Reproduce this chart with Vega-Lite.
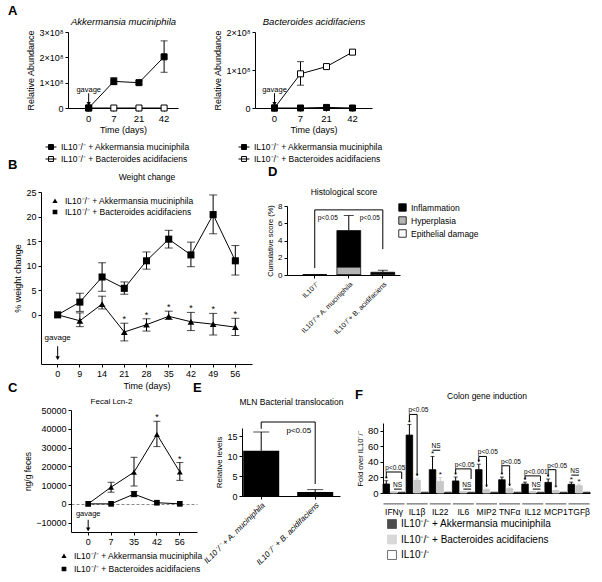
{
"$schema": "https://vega.github.io/schema/vega-lite/v6.json",
"padding": {"left": 8, "top": 5, "right": 5, "bottom": 5},
"config": {
  "font": "Liberation Sans",
  "view": {"stroke": null},
  "axis": {"grid": false, "domainColor": "black", "tickColor": "black", "labelColor": "black", "titleColor": "black", "labelFont": "Liberation Sans", "titleFont": "Liberation Sans", "titleFontWeight": "normal", "labelFontSize": 9, "titleFontSize": 9, "tickSize": 3, "labelPadding": 2, "titlePadding": 3},
  "legend": {"labelFont": "Liberation Sans", "labelColor": "black", "labelLimit": 400, "padding": 0},
  "title": {"font": "Liberation Sans", "color": "black", "fontSize": 13, "fontWeight": "bold", "anchor": "start", "frame": "group", "offset": 0},
  "text": {"font": "Liberation Sans", "color": "black"}
},
"datasets": {
  "a1": [
    {"day": "0", "series": "IL10⁻/⁻ + Bacteroides acidifaciens", "v": 0, "lo": null, "hi": null},
    {"day": "7", "series": "IL10⁻/⁻ + Bacteroides acidifaciens", "v": 0, "lo": null, "hi": null},
    {"day": "21", "series": "IL10⁻/⁻ + Bacteroides acidifaciens", "v": 0, "lo": null, "hi": null},
    {"day": "42", "series": "IL10⁻/⁻ + Bacteroides acidifaciens", "v": 0, "lo": null, "hi": null},
    {"day": "0", "series": "IL10⁻/⁻ + Akkermansia muciniphila", "v": 0, "lo": null, "hi": null},
    {"day": "7", "series": "IL10⁻/⁻ + Akkermansia muciniphila", "v": 105000000, "lo": 92000000, "hi": 120000000},
    {"day": "21", "series": "IL10⁻/⁻ + Akkermansia muciniphila", "v": 100000000, "lo": 93000000, "hi": 107000000},
    {"day": "42", "series": "IL10⁻/⁻ + Akkermansia muciniphila", "v": 202000000, "lo": 141000000, "hi": 265000000}
  ],
  "a2": [
    {"day": "0", "series": "IL10⁻/⁻ + Bacteroides acidifaciens", "v": 0, "lo": null, "hi": null},
    {"day": "7", "series": "IL10⁻/⁻ + Bacteroides acidifaciens", "v": 90000000, "lo": 60000000, "hi": 122000000},
    {"day": "21", "series": "IL10⁻/⁻ + Bacteroides acidifaciens", "v": 109000000, "lo": 105000000, "hi": 113000000},
    {"day": "42", "series": "IL10⁻/⁻ + Bacteroides acidifaciens", "v": 147000000, "lo": 142000000, "hi": 152000000},
    {"day": "0", "series": "IL10⁻/⁻ + Akkermansia muciniphila", "v": 0, "lo": null, "hi": null},
    {"day": "7", "series": "IL10⁻/⁻ + Akkermansia muciniphila", "v": 0, "lo": null, "hi": null},
    {"day": "21", "series": "IL10⁻/⁻ + Akkermansia muciniphila", "v": 1500000, "lo": null, "hi": null},
    {"day": "42", "series": "IL10⁻/⁻ + Akkermansia muciniphila", "v": 0, "lo": null, "hi": null}
  ],
  "b": [
    {"day": "0", "series": "IL10⁻/⁻ + Bacteroides acidifaciens", "v": 0, "lo": null, "hi": null, "star": false},
    {"day": "9", "series": "IL10⁻/⁻ + Bacteroides acidifaciens", "v": 2.6, "lo": 0.7, "hi": 4.4, "star": false},
    {"day": "14", "series": "IL10⁻/⁻ + Bacteroides acidifaciens", "v": 7.7, "lo": 4.8, "hi": 10.6, "star": false},
    {"day": "21", "series": "IL10⁻/⁻ + Bacteroides acidifaciens", "v": 5.4, "lo": 4.2, "hi": 6.7, "star": false},
    {"day": "28", "series": "IL10⁻/⁻ + Bacteroides acidifaciens", "v": 11.0, "lo": 9.3, "hi": 12.8, "star": false},
    {"day": "35", "series": "IL10⁻/⁻ + Bacteroides acidifaciens", "v": 15.4, "lo": 13.6, "hi": 17.2, "star": false},
    {"day": "42", "series": "IL10⁻/⁻ + Bacteroides acidifaciens", "v": 12.2, "lo": 9.8, "hi": 14.8, "star": false},
    {"day": "49", "series": "IL10⁻/⁻ + Bacteroides acidifaciens", "v": 20.4, "lo": 16.5, "hi": 24.4, "star": false},
    {"day": "56", "series": "IL10⁻/⁻ + Bacteroides acidifaciens", "v": 11.0, "lo": 8.1, "hi": 14.1, "star": false},
    {"day": "0", "series": "IL10⁻/⁻ + Akkermansia muciniphila", "v": 0, "lo": null, "hi": null, "star": false},
    {"day": "9", "series": "IL10⁻/⁻ + Akkermansia muciniphila", "v": -1.2, "lo": -2.4, "hi": 0.4, "star": false},
    {"day": "14", "series": "IL10⁻/⁻ + Akkermansia muciniphila", "v": 2.2, "lo": 1.2, "hi": 3.8, "star": false},
    {"day": "21", "series": "IL10⁻/⁻ + Akkermansia muciniphila", "v": -3.5, "lo": -5.3, "hi": -1.7, "star": true},
    {"day": "28", "series": "IL10⁻/⁻ + Akkermansia muciniphila", "v": -2.0, "lo": -3.3, "hi": -0.8, "star": true},
    {"day": "35", "series": "IL10⁻/⁻ + Akkermansia muciniphila", "v": -0.3, "lo": -0.95, "hi": 0.75, "star": true},
    {"day": "42", "series": "IL10⁻/⁻ + Akkermansia muciniphila", "v": -1.4, "lo": -3.2, "hi": 0.5, "star": true},
    {"day": "49", "series": "IL10⁻/⁻ + Akkermansia muciniphila", "v": -1.9, "lo": -4.1, "hi": 0.3, "star": true},
    {"day": "56", "series": "IL10⁻/⁻ + Akkermansia muciniphila", "v": -2.5, "lo": -4.2, "hi": -0.7, "star": true}
  ],
  "c": [
    {"day": "0", "series": "IL10⁻/⁻ + Bacteroides acidifaciens", "v": 0, "lo": null, "hi": null, "star": false},
    {"day": "7", "series": "IL10⁻/⁻ + Bacteroides acidifaciens", "v": 0, "lo": null, "hi": null, "star": false},
    {"day": "35", "series": "IL10⁻/⁻ + Bacteroides acidifaciens", "v": 5200, "lo": 3800, "hi": 6600, "star": false},
    {"day": "42", "series": "IL10⁻/⁻ + Bacteroides acidifaciens", "v": 600, "lo": null, "hi": null, "star": false},
    {"day": "56", "series": "IL10⁻/⁻ + Bacteroides acidifaciens", "v": 0, "lo": null, "hi": null, "star": false},
    {"day": "0", "series": "IL10⁻/⁻ + Akkermansia muciniphila", "v": 0, "lo": null, "hi": null, "star": false},
    {"day": "7", "series": "IL10⁻/⁻ + Akkermansia muciniphila", "v": 8900, "lo": 6200, "hi": 11500, "star": false},
    {"day": "35", "series": "IL10⁻/⁻ + Akkermansia muciniphila", "v": 16900, "lo": 9500, "hi": 24800, "star": false},
    {"day": "42", "series": "IL10⁻/⁻ + Akkermansia muciniphila", "v": 37000, "lo": 30500, "hi": 44000, "star": true},
    {"day": "56", "series": "IL10⁻/⁻ + Akkermansia muciniphila", "v": 17000, "lo": 12500, "hi": 22000, "star": true}
  ],
  "d": [
    {"cat": "IL10⁻/⁻", "part": "Inflammation", "v": 0},
    {"cat": "IL10⁻/⁻", "part": "Hyperplasia", "v": 0},
    {"cat": "IL10⁻/⁻", "part": "Epithelial damage", "v": 0},
    {"cat": "IL10⁻/⁻+ A. muciniphila", "part": "Inflammation", "v": 4.25},
    {"cat": "IL10⁻/⁻+ A. muciniphila", "part": "Hyperplasia", "v": 0.9},
    {"cat": "IL10⁻/⁻+ A. muciniphila", "part": "Epithelial damage", "v": 0},
    {"cat": "IL10⁻/⁻+ B. acidifaciens", "part": "Inflammation", "v": 0.2},
    {"cat": "IL10⁻/⁻+ B. acidifaciens", "part": "Hyperplasia", "v": 0.12},
    {"cat": "IL10⁻/⁻+ B. acidifaciens", "part": "Epithelial damage", "v": 0}
  ],
  "de": [
    {"cat": "IL10⁻/⁻+ A. muciniphila", "total": 5.15, "hi": 6.9},
    {"cat": "IL10⁻/⁻+ B. acidifaciens", "total": 0.32, "hi": 0.55}
  ],
  "dp": [
    {"cat": "IL10⁻/⁻", "cat2": "IL10⁻/⁻+ B. acidifaciens", "label": "p<0.05"}
  ],
  "e": [
    {"cat": "IL10⁻/⁻ + A. muciniphila", "v": 11.3, "hi": 16.0},
    {"cat": "IL10⁻/⁻ + B. acidifaciens", "v": 1.0, "hi": 1.6}
  ],
  "ep": [
    {"cat": "IL10⁻/⁻ + A. muciniphila", "cat2": "IL10⁻/⁻ + B. acidifaciens", "label": "p<0.05"}
  ],
  "f": [
    {"bar": "IFNγ|A", "series": "IL10⁻/⁻ + Akkermansia muciniphila", "v": 11.6, "hi": 15.8, "star": true},
    {"bar": "IFNγ|B", "series": "IL10⁻/⁻ + Bacteroides acidifaciens", "v": 1.8, "hi": null, "star": false},
    {"bar": "IFNγ|C", "series": "IL10⁻/⁻", "v": 1, "hi": null, "star": false},
    {"bar": "IL1β|A", "series": "IL10⁻/⁻ + Akkermansia muciniphila", "v": 74.5, "hi": 88, "star": true},
    {"bar": "IL1β|B", "series": "IL10⁻/⁻ + Bacteroides acidifaciens", "v": 16.5, "hi": 19, "star": true},
    {"bar": "IL1β|C", "series": "IL10⁻/⁻", "v": 1, "hi": null, "star": false},
    {"bar": "IL22|A", "series": "IL10⁻/⁻ + Akkermansia muciniphila", "v": 30, "hi": 47, "star": true},
    {"bar": "IL22|B", "series": "IL10⁻/⁻ + Bacteroides acidifaciens", "v": 15, "hi": 20, "star": true},
    {"bar": "IL22|C", "series": "IL10⁻/⁻", "v": 1, "hi": null, "star": false},
    {"bar": "IL6|A", "series": "IL10⁻/⁻ + Akkermansia muciniphila", "v": 15.5, "hi": 20.5, "star": true},
    {"bar": "IL6|B", "series": "IL10⁻/⁻ + Bacteroides acidifaciens", "v": 2, "hi": null, "star": false},
    {"bar": "IL6|C", "series": "IL10⁻/⁻", "v": 1, "hi": null, "star": false},
    {"bar": "MIP2|A", "series": "IL10⁻/⁻ + Akkermansia muciniphila", "v": 30, "hi": 37, "star": true},
    {"bar": "MIP2|B", "series": "IL10⁻/⁻ + Bacteroides acidifaciens", "v": 4, "hi": 5, "star": true},
    {"bar": "MIP2|C", "series": "IL10⁻/⁻", "v": 1, "hi": null, "star": false},
    {"bar": "TNFα|A", "series": "IL10⁻/⁻ + Akkermansia muciniphila", "v": 17, "hi": 20.5, "star": true},
    {"bar": "TNFα|B", "series": "IL10⁻/⁻ + Bacteroides acidifaciens", "v": 5.5, "hi": 6.5, "star": true},
    {"bar": "TNFα|C", "series": "IL10⁻/⁻", "v": 1, "hi": null, "star": false},
    {"bar": "IL12|A", "series": "IL10⁻/⁻ + Akkermansia muciniphila", "v": 11.5, "hi": 14, "star": true},
    {"bar": "IL12|B", "series": "IL10⁻/⁻ + Bacteroides acidifaciens", "v": 2, "hi": null, "star": false},
    {"bar": "IL12|C", "series": "IL10⁻/⁻", "v": 1, "hi": null, "star": false},
    {"bar": "MCP1|A", "series": "IL10⁻/⁻ + Akkermansia muciniphila", "v": 13.7, "hi": 18, "star": true},
    {"bar": "MCP1|B", "series": "IL10⁻/⁻ + Bacteroides acidifaciens", "v": 3, "hi": 3.5, "star": true},
    {"bar": "MCP1|C", "series": "IL10⁻/⁻", "v": 1, "hi": null, "star": false},
    {"bar": "TGFβ|A", "series": "IL10⁻/⁻ + Akkermansia muciniphila", "v": 11.2, "hi": 14, "star": true},
    {"bar": "TGFβ|B", "series": "IL10⁻/⁻ + Bacteroides acidifaciens", "v": 9.5, "hi": 11.5, "star": true},
    {"bar": "TGFβ|C", "series": "IL10⁻/⁻", "v": 1, "hi": null, "star": false}
  ],
  "fb": [
    {"from": "IFNγ|A", "to": "IFNγ|C", "level": 27, "lo1": 19, "lo2": 18, "label": "p<0.05"},
    {"from": "IFNγ|B", "to": "IFNγ|C", "level": 5, "lo1": 5, "lo2": 5, "label": "NS"},
    {"from": "IL1β|A", "to": "IL1β|B", "level": 101, "lo1": 92, "lo2": 22, "label": "p<0.05"},
    {"from": "IL22|A", "to": "IL22|B", "level": 55, "lo1": 55, "lo2": 55, "label": "NS"},
    {"from": "IL6|A", "to": "IL6|C", "level": 31, "lo1": 24, "lo2": 18, "label": "p<0.05"},
    {"from": "IL6|B", "to": "IL6|C", "level": 5, "lo1": 5, "lo2": 5, "label": "NS"},
    {"from": "MIP2|A", "to": "MIP2|B", "level": 47, "lo1": 40, "lo2": 8, "label": "p<0.05"},
    {"from": "TNFα|A", "to": "TNFα|B", "level": 35, "lo1": 24, "lo2": 9, "label": "p<0.05"},
    {"from": "IL12|A", "to": "IL12|C", "level": 22, "lo1": 17, "lo2": 15, "label": "p<0.001"},
    {"from": "IL12|B", "to": "IL12|C", "level": 5, "lo1": 5, "lo2": 5, "label": "NS"},
    {"from": "MCP1|A", "to": "MCP1|B", "level": 30, "lo1": 21, "lo2": 9, "label": "p<0.05"},
    {"from": "TGFβ|A", "to": "TGFβ|B", "level": 23, "lo1": 23, "lo2": 23, "label": "NS"}
  ]
},
"columns": 3,
"bounds": "flush",
"align": "each",
"spacing": {"row": 46, "column": 0},
"resolve": {"scale": {"fill": "independent", "shape": "independent", "color": "independent", "stroke": "independent"}},
"concat": [
  {
    "width": 179, "height": 114,
    "data": {"name": "a1"},
    "title": {"text": "A", "dx": -33, "dy": 6},
    "layer": [
      {
        "encoding": {
          "x": {"field": "day", "type": "ordinal", "scale": {"domain": ["0", "7", "21", "42"], "range": [27, 137], "padding": 0.375, "align": 0.68}, "axis": {"orient": "bottom", "offset": -38, "title": "Time (days)", "labelAngle": 0, "labelFontSize": 9.5, "titleFontSize": 9}},
          "y": {"field": "v", "type": "quantitative", "scale": {"domain": [0, 300000000], "range": [76, 0], "nice": false}, "axis": {"orient": "left", "values": [0, 100000000, 200000000, 300000000], "labelExpr": "datum.value === 0 ? '0' : format(datum.value / 100000000, 'd') + '×10⁸'", "offset": -27, "title": "Relative Abundance", "titleFontSize": 9}}
        },
        "layer": [
          {"mark": {"type": "line", "color": "black", "strokeWidth": 1}, "encoding": {"detail": {"field": "series"}}},
          {"transform": [{"filter": "datum.hi != null"}], "mark": {"type": "rule", "color": "black"}, "encoding": {"y": {"field": "lo", "type": "quantitative"}, "y2": {"field": "hi"}}},
          {"transform": [{"filter": "datum.hi != null"}], "mark": {"type": "tick", "color": "black", "size": 7, "thickness": 1}, "encoding": {"y": {"field": "hi", "type": "quantitative"}}},
          {"transform": [{"filter": "datum.hi != null"}], "mark": {"type": "tick", "color": "black", "size": 7, "thickness": 1}, "encoding": {"y": {"field": "lo", "type": "quantitative"}}},
          {"mark": {"type": "point", "shape": "square", "filled": true, "stroke": "black", "strokeWidth": 1, "size": 36, "opacity": 1}, "encoding": {"fill": {"field": "series", "type": "nominal", "scale": {"domain": ["IL10⁻/⁻ + Akkermansia muciniphila", "IL10⁻/⁻ + Bacteroides acidifaciens"], "range": ["black", "white"]}, "legend": {"orient": "none", "legendX": 4, "legendY": 109, "title": null, "symbolType": "M-1,0L1,0M-0.45,-0.45L0.45,-0.45L0.45,0.45L-0.45,0.45Z", "symbolSize": 120, "symbolStrokeColor": "black", "symbolStrokeWidth": 1, "labelFontSize": 8.5, "rowPadding": 1}}}}
        ]
      },
      {
        "data": {"values": [{"day": "0", "label": "gavage"}]},
        "encoding": {"x": {"field": "day", "type": "ordinal", "axis": null}},
        "layer": [
          {"mark": {"type": "text", "fontSize": 7.5, "color": "black"}, "encoding": {"y": {"datum": 71000000, "type": "quantitative", "axis": null}, "text": {"field": "label", "type": "nominal"}}},
          {"mark": {"type": "rule", "color": "black"}, "encoding": {"y": {"datum": 58000000, "type": "quantitative", "axis": null}, "y2": {"datum": 14000000}}},
          {"mark": {"type": "point", "shape": "triangle-down", "filled": true, "color": "black", "size": 18, "opacity": 1}, "encoding": {"y": {"datum": 16000000, "type": "quantitative", "axis": null}}}
        ]
      },
      {"mark": {"type": "point", "opacity": 0}, "encoding": {"x": {"field": "day", "type": "ordinal", "scale": {"domain": ["0", "7", "21", "42"], "range": [27, 137], "padding": 0.375, "align": 0.68}, "axis": {"orient": "top", "title": "Akkermansia muciniphila", "labels": false, "ticks": false, "domain": false, "titleFontStyle": "italic", "titleFontSize": 9.5, "titlePadding": 6}}}}
    ],
    "resolve": {"axis": {"x": "independent", "y": "independent"}}
  },
  {
    "width": 141, "height": 114,
    "data": {"name": "a2"},
    "layer": [
      {
        "encoding": {
          "x": {"field": "day", "type": "ordinal", "scale": {"domain": ["0", "7", "21", "42"], "range": [13, 130], "padding": 0.5}, "axis": {"orient": "bottom", "offset": -38, "title": "Time (days)", "labelAngle": 0, "labelFontSize": 9.5, "titleFontSize": 9}},
          "y": {"field": "v", "type": "quantitative", "scale": {"domain": [0, 200000000], "range": [76, 0], "nice": false}, "axis": {"orient": "left", "values": [0, 100000000, 200000000], "labelExpr": "datum.value === 0 ? '0' : format(datum.value / 100000000, 'd') + '×10⁸'", "offset": -13, "title": "Relative Abundance", "titleFontSize": 9}}
        },
        "layer": [
          {"mark": {"type": "line", "color": "black", "strokeWidth": 1}, "encoding": {"detail": {"field": "series"}}},
          {"transform": [{"filter": "datum.hi != null"}], "mark": {"type": "rule", "color": "black"}, "encoding": {"y": {"field": "lo", "type": "quantitative"}, "y2": {"field": "hi"}}},
          {"transform": [{"filter": "datum.hi != null"}], "mark": {"type": "tick", "color": "black", "size": 7, "thickness": 1}, "encoding": {"y": {"field": "hi", "type": "quantitative"}}},
          {"transform": [{"filter": "datum.hi != null"}], "mark": {"type": "tick", "color": "black", "size": 7, "thickness": 1}, "encoding": {"y": {"field": "lo", "type": "quantitative"}}},
          {"mark": {"type": "point", "shape": "square", "filled": true, "stroke": "black", "strokeWidth": 1, "size": 36, "opacity": 1}, "encoding": {"fill": {"field": "series", "type": "nominal", "scale": {"domain": ["IL10⁻/⁻ + Akkermansia muciniphila", "IL10⁻/⁻ + Bacteroides acidifaciens"], "range": ["black", "white"]}, "legend": {"orient": "none", "legendX": -4, "legendY": 109, "title": null, "symbolType": "M-1,0L1,0M-0.45,-0.45L0.45,-0.45L0.45,0.45L-0.45,0.45Z", "symbolSize": 120, "symbolStrokeColor": "black", "symbolStrokeWidth": 1, "labelFontSize": 8.5, "rowPadding": 1}}}}
        ]
      },
      {
        "data": {"values": [{"day": "0", "label": "gavage"}]},
        "encoding": {"x": {"field": "day", "type": "ordinal", "axis": null}},
        "layer": [
          {"mark": {"type": "text", "fontSize": 7.5, "color": "black"}, "encoding": {"y": {"datum": 48000000, "type": "quantitative", "axis": null}, "text": {"field": "label", "type": "nominal"}}},
          {"mark": {"type": "rule", "color": "black"}, "encoding": {"y": {"datum": 39000000, "type": "quantitative", "axis": null}, "y2": {"datum": 9000000}}},
          {"mark": {"type": "point", "shape": "triangle-down", "filled": true, "color": "black", "size": 18, "opacity": 1}, "encoding": {"y": {"datum": 11000000, "type": "quantitative", "axis": null}}}
        ]
      },
      {"mark": {"type": "point", "opacity": 0}, "encoding": {"x": {"field": "day", "type": "ordinal", "scale": {"domain": ["0", "7", "21", "42"], "range": [13, 130], "padding": 0.5}, "axis": {"orient": "top", "title": "Bacteroides acidifaciens", "labels": false, "ticks": false, "domain": false, "titleFontStyle": "italic", "titleFontSize": 9.5, "titlePadding": 6}}}}
    ],
    "resolve": {"axis": {"x": "independent", "y": "independent"}}
  },
  {"width": 1, "height": 1, "data": {"values": [{"a": 1}]}, "mark": {"type": "point", "opacity": 0}, "encoding": {}},
  {
    "width": 201, "height": 172,
    "data": {"name": "b"},
    "title": {"text": "B", "dx": -33, "dy": 4},
    "layer": [
      {
        "encoding": {
          "x": {"field": "day", "type": "ordinal", "scale": {"domain": ["0", "9", "14", "21", "28", "35", "42", "49", "56"], "range": [0, 211], "padding": 0.5}, "axis": {"orient": "bottom", "title": "Time (days)", "labelAngle": 0, "labelFontSize": 9, "titleFontSize": 9}},
          "y": {"field": "v", "type": "quantitative", "scale": {"domain": [-10, 25], "nice": false}, "axis": {"orient": "left", "values": [0, 5, 10, 15, 20, 25], "title": "% weight change", "titleFontSize": 9, "labelFontSize": 9}}
        },
        "layer": [
          {"mark": {"type": "line", "color": "black", "strokeWidth": 1}, "encoding": {"detail": {"field": "series"}}},
          {"transform": [{"filter": "datum.hi != null"}], "mark": {"type": "rule", "color": "black"}, "encoding": {"y": {"field": "lo", "type": "quantitative"}, "y2": {"field": "hi"}}},
          {"transform": [{"filter": "datum.hi != null"}], "mark": {"type": "tick", "color": "black", "size": 8, "thickness": 1}, "encoding": {"y": {"field": "hi", "type": "quantitative"}}},
          {"transform": [{"filter": "datum.hi != null"}], "mark": {"type": "tick", "color": "black", "size": 8, "thickness": 1}, "encoding": {"y": {"field": "lo", "type": "quantitative"}}},
          {"transform": [{"filter": "datum.series === 'IL10⁻/⁻ + Akkermansia muciniphila'"}], "mark": {"type": "point", "shape": "triangle-up", "filled": true, "color": "black", "size": 45, "opacity": 1}},
          {"transform": [{"filter": "datum.series !== 'IL10⁻/⁻ + Akkermansia muciniphila'"}], "mark": {"type": "point", "shape": "square", "filled": true, "color": "black", "size": 50, "opacity": 1}},
          {"transform": [{"filter": "false"}], "mark": {"type": "point", "filled": true, "color": "black", "opacity": 1}, "encoding": {"shape": {"field": "series", "type": "nominal", "scale": {"domain": ["IL10⁻/⁻ + Akkermansia muciniphila", "IL10⁻/⁻ + Bacteroides acidifaciens"], "range": ["M-1,0L1,0M0,-0.5L0.5,0.4L-0.5,0.4Z", "M-1,0L1,0M-0.45,-0.45L0.45,-0.45L0.45,0.45L-0.45,0.45Z"]}, "legend": {"orient": "none", "legendX": 8, "legendY": 3, "title": null, "symbolSize": 110, "symbolFillColor": "black", "symbolStrokeColor": "black", "symbolStrokeWidth": 1, "symbolOpacity": 1, "labelFontSize": 8.5, "rowPadding": 0}}}},
          {"transform": [{"filter": "datum.star"}], "mark": {"type": "text", "fontSize": 9, "baseline": "alphabetic", "dy": -1, "color": "black"}, "encoding": {"y": {"field": "hi", "type": "quantitative"}, "text": {"value": "*"}}}
        ]
      },
      {
        "data": {"values": [{"day": "0", "label": "gavage"}]},
        "encoding": {"x": {"field": "day", "type": "ordinal", "axis": null}},
        "layer": [
          {"mark": {"type": "text", "fontSize": 8, "color": "black"}, "encoding": {"y": {"datum": -4.8, "type": "quantitative", "axis": null}, "text": {"field": "label", "type": "nominal"}}},
          {"mark": {"type": "rule", "color": "black"}, "encoding": {"y": {"datum": -6.4, "type": "quantitative", "axis": null}, "y2": {"datum": -9.0}}},
          {"mark": {"type": "point", "shape": "triangle-down", "filled": true, "color": "black", "size": 18, "opacity": 1}, "encoding": {"y": {"datum": -8.8, "type": "quantitative", "axis": null}}}
        ]
      },
      {"mark": {"type": "point", "opacity": 0}, "encoding": {"x": {"field": "day", "type": "ordinal", "scale": {"domain": ["0", "9", "14", "21", "28", "35", "42", "49", "56"], "range": [0, 211], "padding": 0.5}, "axis": {"orient": "top", "title": "Weight change", "labels": false, "ticks": false, "domain": false, "titleFontSize": 8.5, "titlePadding": 11}}}}
    ],
    "resolve": {"axis": {"x": "independent", "y": "independent"}}
  },
  {
    "width": 141, "height": 83,
    "data": {"name": "d"},
    "title": {"text": "D", "dx": 26, "dy": -4},
    "layer": [
      {
        "encoding": {
          "x": {"field": "cat", "type": "nominal", "scale": {"domain": ["IL10⁻/⁻", "IL10⁻/⁻+ A. muciniphila", "IL10⁻/⁻+ B. acidifaciens"], "range": [45, 158], "paddingInner": 0.3, "paddingOuter": 0.31, "align": 0.75}, "axis": {"orient": "bottom", "title": null, "labelAngle": -45, "labelAlign": "right", "labelBaseline": "top", "labelFontSize": 7}},
          "y": {"field": "v", "type": "quantitative", "scale": {"domain": [0, 8], "range": [83, 14], "nice": false}, "axis": {"orient": "left", "values": [0, 2, 4, 6, 8], "offset": -45, "title": "Cumulative score (%)", "titleFontSize": 7.5, "labelFontSize": 8}}
        },
        "layer": [
          {"mark": {"type": "bar", "stroke": "black", "strokeWidth": 0.7}, "encoding": {"fill": {"field": "part", "type": "nominal", "scale": {"domain": ["Inflammation", "Hyperplasia", "Epithelial damage"], "range": ["black", "#b4b4b4", "white"]}, "legend": {"orient": "none", "legendX": 156, "legendY": 11, "title": null, "symbolType": "square", "symbolSize": 56, "symbolStrokeColor": "black", "symbolStrokeWidth": 0.8, "labelFontSize": 8.5, "rowPadding": 2}}, "order": {"field": "part", "sort": "ascending"}}},
          {"data": {"name": "de"}, "mark": {"type": "rule", "color": "black"}, "encoding": {"y": {"field": "total", "type": "quantitative"}, "y2": {"field": "hi"}}},
          {"data": {"name": "de"}, "mark": {"type": "tick", "color": "black", "size": 10, "thickness": 1}, "encoding": {"y": {"field": "hi", "type": "quantitative"}}}
        ]
      },
      {
        "data": {"name": "dp"},
        "encoding": {"x": {"field": "cat", "type": "nominal", "axis": null}},
        "layer": [
          {"mark": {"type": "rule", "color": "black"}, "encoding": {"x2": {"field": "cat2"}, "y": {"datum": 7.55, "type": "quantitative", "axis": null}}},
          {"mark": {"type": "rule", "color": "black"}, "encoding": {"y": {"datum": 0.8, "type": "quantitative", "axis": null}, "y2": {"datum": 7.55}}},
          {"mark": {"type": "rule", "color": "black"}, "encoding": {"x": {"field": "cat2", "type": "nominal", "axis": null}, "y": {"datum": 3.0, "type": "quantitative", "axis": null}, "y2": {"datum": 7.55}}},
          {"mark": {"type": "text", "fontSize": 6.5, "align": "left", "dx": 3, "color": "black"}, "encoding": {"y": {"datum": 6.6, "type": "quantitative", "axis": null}, "text": {"field": "label", "type": "nominal"}}},
          {"mark": {"type": "text", "fontSize": 6.5, "align": "right", "dx": -3, "color": "black"}, "encoding": {"x": {"field": "cat2", "type": "nominal", "axis": null}, "y": {"datum": 6.6, "type": "quantitative", "axis": null}, "text": {"field": "label", "type": "nominal"}}}
        ]
      },
      {"mark": {"type": "point", "opacity": 0}, "encoding": {"x": {"field": "cat", "type": "nominal", "scale": {"domain": ["IL10⁻/⁻", "IL10⁻/⁻+ A. muciniphila", "IL10⁻/⁻+ B. acidifaciens"], "range": [45, 158], "paddingInner": 0.3, "paddingOuter": 0.31, "align": 0.75}, "axis": {"orient": "top", "offset": -14, "title": "Histological score", "labels": false, "ticks": false, "domain": false, "titleFontSize": 8.5, "titlePadding": 10}}}}
    ],
    "resolve": {"axis": {"x": "independent", "y": "independent"}}
  },
  {"width": 1, "height": 1, "data": {"values": [{"a": 1}]}, "mark": {"type": "point", "opacity": 0}, "encoding": {}},
  {
    "width": 166, "height": 122,
    "data": {"name": "c"},
    "title": {"text": "C", "dx": -33, "dy": 2},
    "layer": [
      {
        "encoding": {
          "x": {"field": "day", "type": "ordinal", "scale": {"domain": ["0", "7", "35", "42", "56"], "range": [30, 156], "padding": 0.5}, "axis": {"orient": "bottom", "title": null, "labelAngle": 0, "labelFontSize": 9}},
          "y": {"field": "v", "type": "quantitative", "scale": {"domain": [-15000, 50000], "nice": false}, "axis": {"orient": "left", "values": [-10000, 0, 10000, 20000, 30000, 40000, 50000], "format": "d", "offset": -30, "title": "ng/g feces", "titleFontSize": 8.5, "labelFontSize": 9, "grid": true, "gridDash": [3, 2], "gridColor": {"condition": {"test": "datum.value === 0", "value": "#888888"}, "value": "transparent"}}}
        },
        "layer": [
          {"mark": {"type": "line", "color": "black", "strokeWidth": 1}, "encoding": {"detail": {"field": "series"}}},
          {"transform": [{"filter": "datum.hi != null"}], "mark": {"type": "rule", "color": "black"}, "encoding": {"y": {"field": "lo", "type": "quantitative"}, "y2": {"field": "hi"}}},
          {"transform": [{"filter": "datum.hi != null"}], "mark": {"type": "tick", "color": "black", "size": 7, "thickness": 1}, "encoding": {"y": {"field": "hi", "type": "quantitative"}}},
          {"transform": [{"filter": "datum.hi != null"}], "mark": {"type": "tick", "color": "black", "size": 7, "thickness": 1}, "encoding": {"y": {"field": "lo", "type": "quantitative"}}},
          {"transform": [{"filter": "datum.series === 'IL10⁻/⁻ + Akkermansia muciniphila'"}], "mark": {"type": "point", "shape": "triangle-up", "filled": true, "color": "black", "size": 34, "opacity": 1}},
          {"transform": [{"filter": "datum.series !== 'IL10⁻/⁻ + Akkermansia muciniphila'"}], "mark": {"type": "point", "shape": "square", "filled": true, "color": "black", "size": 32, "opacity": 1}},
          {"transform": [{"filter": "false"}], "mark": {"type": "point", "filled": true, "color": "black", "opacity": 1}, "encoding": {"shape": {"field": "series", "type": "nominal", "scale": {"domain": ["IL10⁻/⁻ + Akkermansia muciniphila", "IL10⁻/⁻ + Bacteroides acidifaciens"], "range": ["M-1,0L1,0M0,-0.5L0.5,0.4L-0.5,0.4Z", "M-1,0L1,0M-0.45,-0.45L0.45,-0.45L0.45,0.45L-0.45,0.45Z"]}, "legend": {"orient": "none", "legendX": 17, "legendY": 140, "title": null, "symbolSize": 110, "symbolFillColor": "black", "symbolStrokeColor": "black", "symbolStrokeWidth": 1, "symbolOpacity": 1, "labelFontSize": 8.5, "rowPadding": 2}}}},
          {"transform": [{"filter": "datum.star"}], "mark": {"type": "text", "fontSize": 9, "baseline": "alphabetic", "dy": -1, "color": "black"}, "encoding": {"y": {"field": "hi", "type": "quantitative"}, "text": {"value": "*"}}}
        ]
      },
      {
        "data": {"values": [{"day": "0", "label": "gavage"}]},
        "encoding": {"x": {"field": "day", "type": "ordinal", "axis": null}},
        "layer": [
          {"mark": {"type": "text", "fontSize": 7.5, "color": "black"}, "encoding": {"y": {"datum": -5500, "type": "quantitative", "axis": null}, "text": {"field": "label", "type": "nominal"}}},
          {"mark": {"type": "rule", "color": "black"}, "encoding": {"y": {"datum": -8500, "type": "quantitative", "axis": null}, "y2": {"datum": -14000}}},
          {"mark": {"type": "point", "shape": "triangle-down", "filled": true, "color": "black", "size": 18, "opacity": 1}, "encoding": {"y": {"datum": -13600, "type": "quantitative", "axis": null}}}
        ]
      },
      {"mark": {"type": "point", "opacity": 0}, "encoding": {"x": {"field": "day", "type": "ordinal", "scale": {"domain": ["0", "7", "35", "42", "56"], "range": [30, 156], "padding": 0.5}, "axis": {"orient": "top", "title": "Fecal Lcn-2", "titleX": 70, "labels": false, "ticks": false, "domain": false, "titleFontSize": 8, "titlePadding": 5}}}}
    ],
    "resolve": {"axis": {"x": "independent", "y": "independent"}}
  },
  {
    "width": 106, "height": 86,
    "data": {"name": "e"},
    "title": {"text": "E", "dx": -49, "dy": 2},
    "layer": [
      {
        "encoding": {
          "x": {"field": "cat", "type": "nominal", "scale": {"domain": ["IL10⁻/⁻ + A. muciniphila", "IL10⁻/⁻ + B. acidifaciens"], "range": [0, 98], "paddingInner": 0.333, "paddingOuter": 0.074, "align": 0.15}, "axis": {"orient": "bottom", "title": null, "labelAngle": -45, "labelAlign": "right", "labelBaseline": "top", "labelFontSize": 8, "labelFontStyle": "italic"}},
          "y": {"field": "v", "type": "quantitative", "scale": {"domain": [0, 17], "range": [86, 18], "nice": false}, "axis": {"orient": "left", "values": [0, 5, 10, 15], "title": "Relative levels", "titleFontSize": 8, "labelFontSize": 9}}
        },
        "layer": [
          {"mark": {"type": "bar", "color": "black"}},
          {"mark": {"type": "rule", "color": "black"}, "encoding": {"y2": {"field": "hi"}}},
          {"mark": {"type": "tick", "color": "black", "size": 16, "thickness": 1}, "encoding": {"y": {"field": "hi", "type": "quantitative"}}}
        ]
      },
      {
        "data": {"name": "ep"},
        "encoding": {"x": {"field": "cat", "type": "nominal", "axis": null}},
        "layer": [
          {"mark": {"type": "rule", "color": "black"}, "encoding": {"x2": {"field": "cat2"}, "y": {"datum": 18.5, "type": "quantitative", "axis": null}}},
          {"mark": {"type": "rule", "color": "black"}, "encoding": {"x": {"field": "cat2", "type": "nominal", "axis": null}, "y": {"datum": 3, "type": "quantitative", "axis": null}, "y2": {"datum": 18.5}}},
          {"mark": {"type": "rule", "color": "black"}, "encoding": {"y": {"datum": 16.8, "type": "quantitative", "axis": null}, "y2": {"datum": 18.5}}},
          {"mark": {"type": "text", "fontSize": 8, "align": "right", "dx": -4, "color": "black"}, "encoding": {"x": {"field": "cat2", "type": "nominal", "axis": null}, "y": {"datum": 16.2, "type": "quantitative", "axis": null}, "text": {"field": "label", "type": "nominal"}}}
        ]
      },
      {"mark": {"type": "point", "opacity": 0}, "encoding": {"x": {"field": "cat", "type": "nominal", "scale": {"domain": ["IL10⁻/⁻ + A. muciniphila", "IL10⁻/⁻ + B. acidifaciens"], "range": [0, 98], "paddingInner": 0.333, "paddingOuter": 0.074, "align": 0.15}, "axis": {"orient": "top", "title": "MLN Bacterial translocation", "labels": false, "ticks": false, "domain": false, "titleFontSize": 8.5, "titlePadding": 4}}}}
    ],
    "resolve": {"axis": {"x": "independent", "y": "independent"}}
  },
  {
    "width": 207, "height": 83,
    "data": {"name": "f"},
    "title": {"text": "F", "dx": -28, "dy": 15},
    "layer": [
      {
        "encoding": {
          "x": {"field": "bar", "type": "nominal", "scale": {"domain": ["IFNγ|A", "IFNγ|B", "IFNγ|C", "IL1β|A", "IL1β|B", "IL1β|C", "IL22|A", "IL22|B", "IL22|C", "IL6|A", "IL6|B", "IL6|C", "MIP2|A", "MIP2|B", "MIP2|C", "TNFα|A", "TNFα|B", "TNFα|C", "IL12|A", "IL12|B", "IL12|C", "MCP1|A", "MCP1|B", "MCP1|C", "TGFβ|A", "TGFβ|B", "TGFβ|C"], "paddingInner": 0.15, "paddingOuter": 0}, "axis": {"orient": "bottom", "title": null, "ticks": false, "labelAngle": 0, "labelPadding": 14, "labelFontSize": 8.5, "labelExpr": "indexof(datum.value, '|B') > 0 ? slice(datum.value, 0, indexof(datum.value, '|')) : ''"}},
          "y": {"field": "v", "type": "quantitative", "scale": {"domain": [0, 90], "range": [83, 13], "nice": false}, "axis": {"orient": "left", "values": [0, 20, 40, 60, 80], "title": "Fold over IL10⁻/⁻", "titleFontSize": 7.5, "labelFontSize": 9.5}}
        },
        "layer": [
          {"mark": {"type": "bar", "strokeWidth": 0.8}, "encoding": {
            "fill": {"field": "series", "type": "nominal", "scale": {"domain": ["IL10⁻/⁻ + Akkermansia muciniphila", "IL10⁻/⁻ + Bacteroides acidifaciens", "IL10⁻/⁻"], "range": ["black", "#c8c8c8", "white"]}, "legend": {"orient": "none", "legendX": 4, "legendY": 109, "title": null, "symbolType": "square", "symbolSize": 80, "symbolStrokeColor": "black", "symbolStrokeWidth": 0.8, "labelFontSize": 10, "rowPadding": 1.5}},
            "stroke": {"field": "series", "type": "nominal", "scale": {"domain": ["IL10⁻/⁻ + Akkermansia muciniphila", "IL10⁻/⁻ + Bacteroides acidifaciens", "IL10⁻/⁻"], "range": ["black", "#c8c8c8", "black"]}, "legend": null}}},
          {"transform": [{"filter": "datum.hi != null"}], "mark": {"type": "rule", "strokeWidth": 1}, "encoding": {"y2": {"field": "hi"}, "stroke": {"field": "series", "type": "nominal", "scale": {"domain": ["IL10⁻/⁻ + Akkermansia muciniphila", "IL10⁻/⁻ + Bacteroides acidifaciens", "IL10⁻/⁻"], "range": ["black", "#c8c8c8", "black"]}, "legend": null}}},
          {"transform": [{"filter": "datum.hi != null"}], "mark": {"type": "tick", "size": 4, "thickness": 1}, "encoding": {"y": {"field": "hi", "type": "quantitative"}, "fill": {"field": "series", "type": "nominal", "scale": {"domain": ["IL10⁻/⁻ + Akkermansia muciniphila", "IL10⁻/⁻ + Bacteroides acidifaciens", "IL10⁻/⁻"], "range": ["black", "#c8c8c8", "white"]}}}},
          {"transform": [{"filter": "datum.star"}], "mark": {"type": "text", "fontSize": 8, "baseline": "alphabetic", "dy": 0, "color": "black"}, "encoding": {"y": {"field": "hi", "type": "quantitative"}, "text": {"value": "*"}}},
          {"data": {"name": "fb"}, "mark": {"type": "rule", "color": "black"}, "encoding": {"x": {"field": "from", "type": "nominal"}, "x2": {"field": "to"}, "y": {"field": "level", "type": "quantitative"}}},
          {"data": {"name": "fb"}, "mark": {"type": "rule", "color": "black"}, "encoding": {"x": {"field": "from", "type": "nominal"}, "y": {"field": "lo1", "type": "quantitative"}, "y2": {"field": "level"}}},
          {"data": {"name": "fb"}, "mark": {"type": "rule", "color": "black"}, "encoding": {"x": {"field": "to", "type": "nominal"}, "y": {"field": "lo2", "type": "quantitative"}, "y2": {"field": "level"}}},
          {"data": {"name": "fb"}, "mark": {"type": "text", "fontSize": 6.5, "align": "left", "baseline": "alphabetic", "dy": -2, "dx": -1, "color": "black"}, "encoding": {"x": {"field": "from", "type": "nominal"}, "y": {"field": "level", "type": "quantitative"}, "text": {"field": "label", "type": "nominal"}}}
        ]
      },
      {
        "transform": [{"filter": "indexof(datum.bar, '|B') > 0"}],
        "mark": {"type": "tick", "color": "black", "size": 21, "thickness": 1},
        "encoding": {"x": {"field": "bar", "type": "nominal", "axis": null}, "y": {"datum": -14, "type": "quantitative", "axis": null}}
      },
      {"mark": {"type": "point", "opacity": 0}, "encoding": {"x": {"field": "bar", "type": "nominal", "scale": {"domain": ["IFNγ|A", "IFNγ|B", "IFNγ|C", "IL1β|A", "IL1β|B", "IL1β|C", "IL22|A", "IL22|B", "IL22|C", "IL6|A", "IL6|B", "IL6|C", "MIP2|A", "MIP2|B", "MIP2|C", "TNFα|A", "TNFα|B", "TNFα|C", "IL12|A", "IL12|B", "IL12|C", "MCP1|A", "MCP1|B", "MCP1|C", "TGFβ|A", "TGFβ|B", "TGFβ|C"], "paddingInner": 0.15, "paddingOuter": 0}, "axis": {"orient": "top", "title": "Colon gene induction", "labels": false, "ticks": false, "domain": false, "titleFontSize": 8.5, "titlePadding": 10}}}}
    ],
    "resolve": {"axis": {"x": "independent", "y": "independent"}}
  }
]
}
